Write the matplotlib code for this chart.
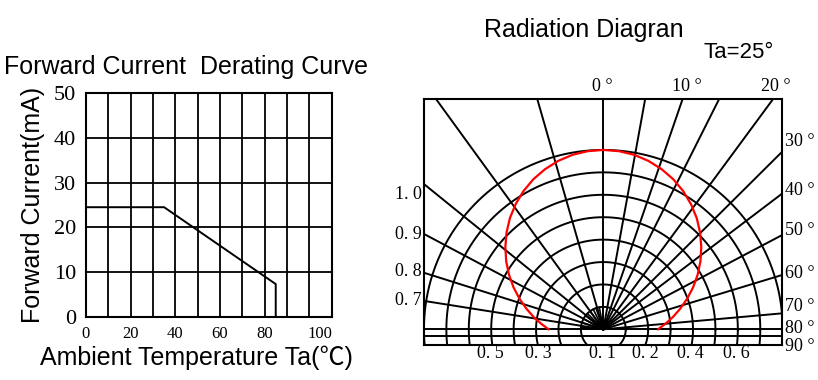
import numpy as np
import matplotlib
matplotlib.use('Agg')
import matplotlib.pyplot as plt

# forward current derating curve
temp = [0, 35, 85, 85]
current = [24.5, 24.5, 7.3, 0]
temp_ticks = [0, 20, 40, 60, 80, 105]
temp_labels = ['0', '20', '40', '60', '80', '100']
current_ticks = [0, 10, 20, 30, 40, 50]

# radiation pattern: half angle (deg) vs relative intensity, symmetric
half_angle = [0, 5, 10, 15, 20, 25, 30, 35, 40, 45, 50, 55, 60, 65, 70, 75, 80, 85, 90]
rel_intensity = [1.0, 0.997, 0.988, 0.972, 0.95, 0.923, 0.89, 0.852, 0.81, 0.763,
                 0.713, 0.661, 0.607, 0.552, 0.497, 0.444, 0.394, 0.347, 0.305]

# polar grid of the diagram
ring_radii = [0.125, 0.25, 0.375, 0.5, 0.625, 0.75, 0.875, 1.0]
rays_right = [0, 10.3, 19, 26.7, 36.4, 45.2, 52.8, 62.2, 73.1, 84.9, 90]
rays_left = [16, 36, 51, 62, 72.5, 81, 90]

top_labels = ['0 °', '10 °', '20 °']
side_labels = ['30 °', '40 °', '50 °', '60 °', '70 °', '80 °', '90 °']
left_labels = ['1. 0', '0. 9', '0. 8', '0. 7']
bottom_labels = ['0. 5', '0. 3', '0. 1', '0. 2', '0. 4', '0. 6']

SANS = ['Liberation Sans', 'Noto Sans CJK SC', 'DejaVu Sans']
SERIF = 'Liberation Serif'

fig = plt.figure(figsize=(8.18, 3.8), dpi=100)

# ---- left: derating curve ----
ax1 = fig.add_axes([0.1051, 0.1666, 0.3002, 0.588])
ax1.set_xlim(0, 110)
ax1.set_ylim(0, 50)
for x in range(10, 110, 10):
    ax1.axvline(x, color='black', lw=1.3)
for y in range(10, 50, 10):
    ax1.axhline(y, color='black', lw=1.3)
ax1.plot(temp, current, color='black', lw=1.4)
ax1.set_xticks(temp_ticks)
ax1.set_xticklabels(temp_labels, family=SERIF, fontsize=12)
ax1.set_yticks(current_ticks)
ax1.set_yticklabels([str(v) for v in current_ticks], family=SERIF, fontsize=16)
ax1.tick_params(length=0)
ax1.tick_params(axis='x', pad=7)
ax1.tick_params(axis='y', pad=7)
for s in ax1.spines.values():
    s.set_linewidth(1.5)
ax1.set_xlabel('Ambient Temperature Ta(℃)', family=SANS, fontsize=18)
ax1.set_ylabel('Forward Current(mA)', family=SANS, fontsize=18)
ax1.xaxis.set_label_coords(0.45, -0.185)
ax1.xaxis.label.set_va('center')
ax1.yaxis.set_label_coords(-0.216, 0.498)
ax1.yaxis.label.set_va('center')
fig.text(186.5 / 818, 1 - 67 / 380, 'Forward Current  Derating Curve',
         family=SANS, fontsize=18, ha='center', va='center')

# ---- right: radiation diagram ----
ax2 = fig.add_axes([0.5187, 0.0921, 0.4377, 0.6474])
ax2.set_xlim(-0.998, 0.998)
ax2.set_ylim(-0.0875, 1.284)
ax2.set_xticks([])
ax2.set_yticks([])
for s in ax2.spines.values():
    s.set_linewidth(1.5)

t = np.linspace(0, 2 * np.pi, 721)
for r in ring_radii:
    ax2.plot(r * np.cos(t), r * np.sin(t), color='black', lw=1.4)
for a in rays_right:
    th = np.radians(a)
    ax2.plot([0, 2 * np.sin(th)], [0, 2 * np.cos(th)], color='black', lw=1.4)
for a in rays_left:
    th = np.radians(a)
    ax2.plot([0, -2 * np.sin(th)], [0, 2 * np.cos(th)], color='black', lw=1.4)
for a in rays_right:
    th = np.radians(a)
    ax2.plot([0, -0.125 * np.sin(th)], [0, 0.125 * np.cos(th)], color='black', lw=1.2)
ax2.axhline(-0.037, color='black', lw=1.4)

ang = np.radians([-a for a in half_angle[::-1]] + half_angle[1:])
rad = np.array(rel_intensity[::-1] + rel_intensity[1:])
ax2.plot(rad * np.sin(ang), rad * np.cos(ang), color='#ff0000', lw=1.6)

for lab, x in zip(top_labels, [-0.005, 0.465, 0.964]):
    ax2.text(x, 1.352, lab, family=SERIF, fontsize=13, ha='center', va='center', clip_on=False)
for lab, y in zip(side_labels, [1.046, 0.776, 0.553, 0.312, 0.126, 0.006, -0.097]):
    ax2.text(1.013, y, lab, family=SERIF, fontsize=13, ha='left', va='center', clip_on=False)
for lab, y in zip(left_labels, [0.749, 0.531, 0.321, 0.163]):
    ax2.text(-1.012, y, lab, family=SERIF, fontsize=13, ha='right', va='center', clip_on=False)
for lab, x in zip(bottom_labels, [-0.632, -0.362, -0.006, 0.232, 0.483, 0.744]):
    ax2.text(x, -0.134, lab, family=SERIF, fontsize=13, ha='center', va='center', clip_on=False)

fig.text(583.9 / 818, 1 - 30 / 380, 'Radiation Diagran', family=SANS, fontsize=18,
         ha='center', va='center')
fig.text(703 / 818, 1 - 53 / 380, 'Ta=25°', family=SANS, fontsize=16, ha='left', va='center')

fig.savefig('out.png', dpi=100)
